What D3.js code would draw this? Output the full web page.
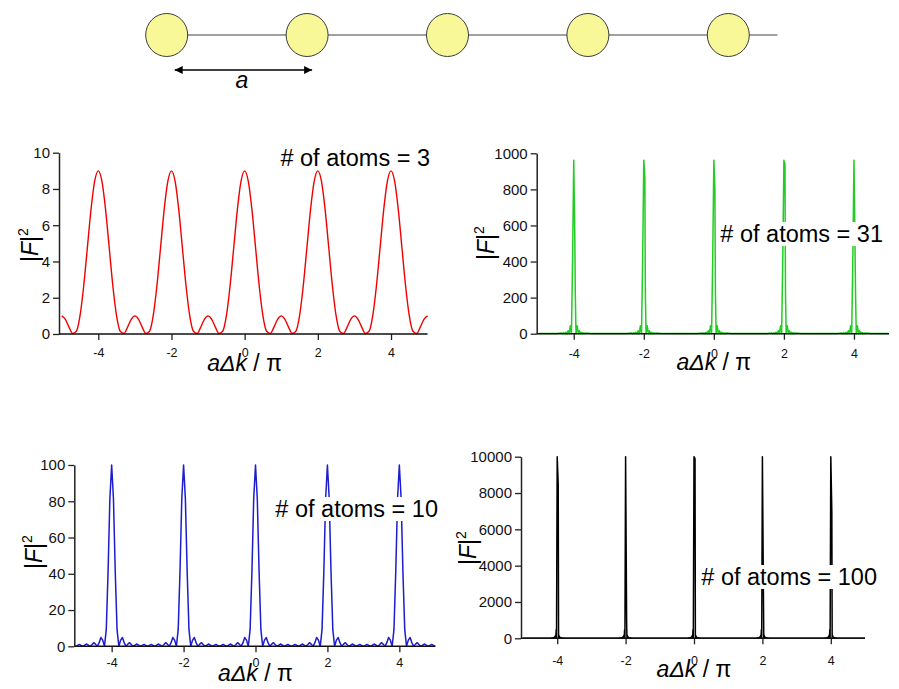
<!DOCTYPE html>
<html>
<head>
<meta charset="utf-8">
<script src="https://cdn.jsdelivr.net/npm/d3@7"></script>
<style>
  body { margin: 0; background: #fff; }
  svg { display: block; }
  .tick text { font-family: "Liberation Sans", Arial, sans-serif; fill: #111; }
</style>
</head>
<body>
<svg id="fig" width="899" height="689"></svg>
<script>
"use strict";

/* ── Data ─────────────────────────────────────────────── */
const ATOMS = [0, 1, 2, 3, 4];
const PEAK_CENTERS = [-4, -2, 0, 2, 4];
const X_TICKS = [-4, -2, 0, 2, 4];

const Y3_TICKS = [0, 2, 4, 6, 8, 10];
const Y31_TICKS = [0, 200, 400, 600, 800, 1000];
const Y10_TICKS = [0, 20, 40, 60, 80, 100];
const Y100_TICKS = [0, 2000, 4000, 6000, 8000, 10000];

// one period around a main peak (offset in aΔk/π, |F|^2)
const N3_OFFSETS = [-1, -0.9, -0.8, -0.7, -0.6, -0.5, -0.4, -0.3, -0.2, -0.1, 0,
                    0.1, 0.2, 0.3, 0.4, 0.5, 0.6, 0.7, 0.8, 0.9, 1];
const N3_VALUES = [1, 0.81, 0.38, 0.03, 0.15, 1, 2.62, 4.73, 6.85, 8.42, 9,
                   8.42, 6.85, 4.73, 2.62, 1, 0.15, 0.03, 0.38, 0.81, 1];

const N10_OFFSETS = [-1, -0.95, -0.9, -0.85, -0.8, -0.75, -0.7, -0.65, -0.6, -0.55,
                     -0.5, -0.45, -0.4, -0.35, -0.3, -0.25, -0.2, -0.15, -0.1, -0.05, 0,
                     0.05, 0.1, 0.15, 0.2, 0.25, 0.3, 0.35, 0.4, 0.45, 0.5,
                     0.55, 0.6, 0.65, 0.7, 0.75, 0.8, 0.85, 0.9, 0.95, 1];
const N10_VALUES = [0, 0.5, 1.03, 0.53, 0, 0.59, 1.26, 0.69, 0, 0.87,
                    2, 1.19, 0, 1.83, 4.85, 3.41, 0, 9.17, 40.9, 81.2, 100,
                    81.2, 40.9, 9.17, 0, 3.41, 4.85, 1.83, 0, 1.19, 2,
                    0.87, 0, 0.69, 1.26, 0.59, 0, 0.53, 1.03, 0.5, 0];

// sparse samples; null = sampled shoulder, different for each peak
const N31_OFFSETS = [-1, -0.7, -0.5, -0.42, -0.355, -0.323, -0.29, -0.258, -0.226, -0.194,
                     -0.161, -0.13, -0.097, -0.065, -0.03, 0, 0.03, 0.045, 0.065, 0.097,
                     0.13, 0.161, 0.194, 0.226, 0.258, 0.29, 0.323, 0.355, 0.42, 0.5, 0.7, 1];
const N31_VALUES = [1, 1, 1, 3, 4, 0, 5, 0, 8, 0,
                    16, 0, 44, 0, 450, 961, null, 220, 0, 44,
                    0, 16, 0, 8, 0, 5, 0, 4, 3, 1, 1, 1];
const N31_SIDE = [550, 870, 800, 940, 480];

const N100_OFFSETS = [-1, -0.5, -0.2, -0.11, -0.1, -0.09, -0.08, -0.07, -0.06, -0.05,
                      -0.04, -0.03, -0.02, 0, 0.03, 0.04, 0.05, 0.06, 0.07, 0.08,
                      0.09, 0.1, 0.11, 0.2, 0.5, 1];
const N100_VALUES = [1, 2, 8, 34, 0, 50, 0, 83, 0, 162,
                     0, 470, 0, 10000, null, 0, 162, 0, 83, 0,
                     50, 0, 34, 8, 2, 1];
const N100_SIDE = [8500, 900, 9900, 2500, 7000];

/* ── Build a full series from one-period samples ─────────── */
function buildSeries(offsets, values, sides) {
  const pts = [];
  PEAK_CENTERS.forEach((c, i) => {
    offsets.forEach((o, j) => {
      if (i > 0 && j === 0) return;
      const v = values[j] === null ? sides[i] : values[j];
      pts.push([c + o, v]);
    });
  });
  return pts;
}

/* ── Layout ───────────────────────────────────────────── */
const PANELS = [
  { n: 3, color: "#f00000", width: 1.4, yMax: 10, yTicks: Y3_TICKS, curve: d3.curveMonotoneX,
    data: buildSeries(N3_OFFSETS, N3_VALUES),
    left: 59, x0: 61.7, x1: 427.6, top: 152.7, bottom: 334,
    tickOff: 23, titleY: 371, yLabX: 38, yLabY: 245, legX: 430, legY: 166 },
  { n: 31, color: "#22cc22", width: 1.5, yMax: 1000, yTicks: Y31_TICKS, curve: d3.curveLinear,
    data: buildSeries(N31_OFFSETS, N31_VALUES, N31_SIDE),
    left: 536.7, x0: 538.7, x1: 889, top: 153.3, bottom: 333.7,
    tickOff: 24, titleY: 370, yLabX: 494, yLabY: 243, legX: 883, legY: 242 },
  { n: 10, color: "#1c1cd0", width: 1.5, yMax: 100, yTicks: Y10_TICKS, curve: d3.curveLinear,
    data: buildSeries(N10_OFFSETS, N10_VALUES),
    left: 74.3, x0: 75.7, x1: 435.3, top: 465, bottom: 646.3,
    tickOff: 21, titleY: 681, yLabX: 42, yLabY: 552, legX: 438, legY: 517 },
  { n: 100, color: "#000000", width: 1.5, yMax: 10000, yTicks: Y100_TICKS, curve: d3.curveLinear,
    data: buildSeries(N100_OFFSETS, N100_VALUES, N100_SIDE),
    left: 521, x0: 523, x1: 865, top: 456.7, bottom: 638.3,
    tickOff: 27, titleY: 677, yLabX: 476, yLabY: 548, legX: 877, legY: 585 }
];

const svg = d3.select("#fig");
const plain = (d) => String(d);   // plain hyphen, no thousands separator

/* ── Atom chain diagram ───────────────────────────────── */
const xAtom = d3.scaleLinear().domain([0, 4]).range([166.7, 728.3]);
const chainY = 35;

const defs = svg.append("defs");
["arrowEnd", "arrowStart"].forEach((id, i) => {
  defs.append("marker")
    .attr("id", id)
    .attr("viewBox", "0 0 10 10")
    .attr("refX", i === 0 ? 10 : 0).attr("refY", 5)
    .attr("markerWidth", 8).attr("markerHeight", 8)
    .attr("markerUnits", "userSpaceOnUse")
    .attr("orient", "auto")
    .append("path")
    .attr("d", i === 0 ? "M0,0 L10,5 L0,10 z" : "M10,0 L0,5 L10,10 z")
    .attr("fill", "#000");
});

svg.append("line")
  .attr("x1", xAtom(0)).attr("x2", xAtom(4.35))
  .attr("y1", chainY).attr("y2", chainY)
  .attr("stroke", "#808080").attr("stroke-width", 1.6);

svg.selectAll(".atom").data(ATOMS).enter()
  .append("ellipse")
  .attr("class", "atom")
  .attr("cx", (d) => xAtom(d)).attr("cy", chainY)
  .attr("rx", 21).attr("ry", 21.5)
  .attr("fill", "#f8f898").attr("stroke", "#3a3a3a").attr("stroke-width", 1);

svg.append("line")
  .attr("x1", xAtom(0) + 8).attr("x2", xAtom(1) + 5)
  .attr("y1", 70).attr("y2", 70)
  .attr("stroke", "#000").attr("stroke-width", 1.6)
  .attr("marker-start", "url(#arrowStart)")
  .attr("marker-end", "url(#arrowEnd)");

svg.append("text")
  .attr("x", (xAtom(0) + xAtom(1)) / 2 + 5).attr("y", 88)
  .attr("text-anchor", "middle")
  .attr("font-family", "Liberation Sans, Arial, sans-serif")
  .attr("font-style", "italic").attr("font-size", 23)
  .text("a");

/* ── Panels ───────────────────────────────────────────── */
PANELS.forEach(drawPanel);

function drawPanel(p) {
  const g = svg.append("g");
  const x = d3.scaleLinear().domain([-5, 5]).range([p.x0, p.x1]);
  const y = d3.scaleLinear().domain([0, p.yMax]).range([p.bottom, p.top]);

  /* curve */
  const line = d3.line().x((d) => x(d[0])).y((d) => y(d[1])).curve(p.curve);
  g.append("path")
    .datum(p.data)
    .attr("d", line)
    .attr("fill", "none")
    .attr("stroke", p.color)
    .attr("stroke-width", p.width)
    .attr("stroke-linejoin", "round");

  /* y axis */
  const yAxis = g.append("g")
    .attr("transform", `translate(${p.left},0)`)
    .call(d3.axisLeft(y).tickValues(p.yTicks).tickFormat(plain)
      .tickSize(6).tickSizeOuter(0).tickPadding(3));
  yAxis.select(".domain").attr("stroke", "#222").attr("stroke-width", 1.5);
  yAxis.selectAll(".tick line").attr("stroke", "#222").attr("stroke-width", 1.3);
  yAxis.selectAll(".tick text").attr("font-size", 15);
  yAxis.attr("font-family", null).attr("font-size", null);

  /* x axis */
  const xAxis = g.append("g")
    .attr("transform", `translate(0,${p.bottom})`)
    .call(d3.axisBottom(x).tickValues(X_TICKS).tickFormat(plain)
      .tickSize(6).tickSizeOuter(0));
  xAxis.select(".domain").remove();
  xAxis.append("line")
    .attr("x1", p.left).attr("x2", p.x1)
    .attr("stroke", "#111").attr("stroke-width", 1.6);
  xAxis.selectAll(".tick line").attr("stroke", "#222").attr("stroke-width", 1.3);
  xAxis.selectAll(".tick text")
    .attr("font-size", 12.5)
    .attr("y", p.tickOff).attr("dy", null);
  xAxis.attr("font-family", null).attr("font-size", null);

  /* x title: aΔk / π */
  const title = g.append("text")
    .attr("x", (p.x0 + p.x1) / 2).attr("y", p.titleY)
    .attr("text-anchor", "middle")
    .attr("font-family", "Liberation Sans, Arial, sans-serif")
    .attr("font-size", 23);
  title.append("tspan").attr("font-style", "italic").text("a\u0394k");
  title.append("tspan").text("\u00a0/\u00a0\u03c0");

  /* y title: |F|^2 */
  const yl = g.append("text")
    .attr("transform", `translate(${p.yLabX},${p.yLabY}) rotate(-90)`)
    .attr("text-anchor", "middle")
    .attr("font-family", "Liberation Sans, Arial, sans-serif")
    .attr("font-size", 23);
  yl.append("tspan").text("|");
  yl.append("tspan").attr("font-style", "italic").text("F");
  yl.append("tspan").text("|");
  yl.append("tspan").attr("font-size", 14).attr("dy", -10).text("2");

  /* atom count label on a white box */
  const lg = g.append("g");
  const lt = lg.append("text")
    .attr("x", p.legX).attr("y", p.legY)
    .attr("text-anchor", "end")
    .attr("font-family", "Liberation Sans, Arial, sans-serif")
    .attr("font-size", 23.5)
    .text(`# of atoms = ${p.n}`);
  const bb = lt.node().getBBox();
  lg.insert("rect", "text")
    .attr("x", bb.x - 1).attr("y", bb.y + 1)
    .attr("width", bb.width + 2).attr("height", bb.height - 2)
    .attr("fill", "#fff");
}
</script>
</body>
</html>
